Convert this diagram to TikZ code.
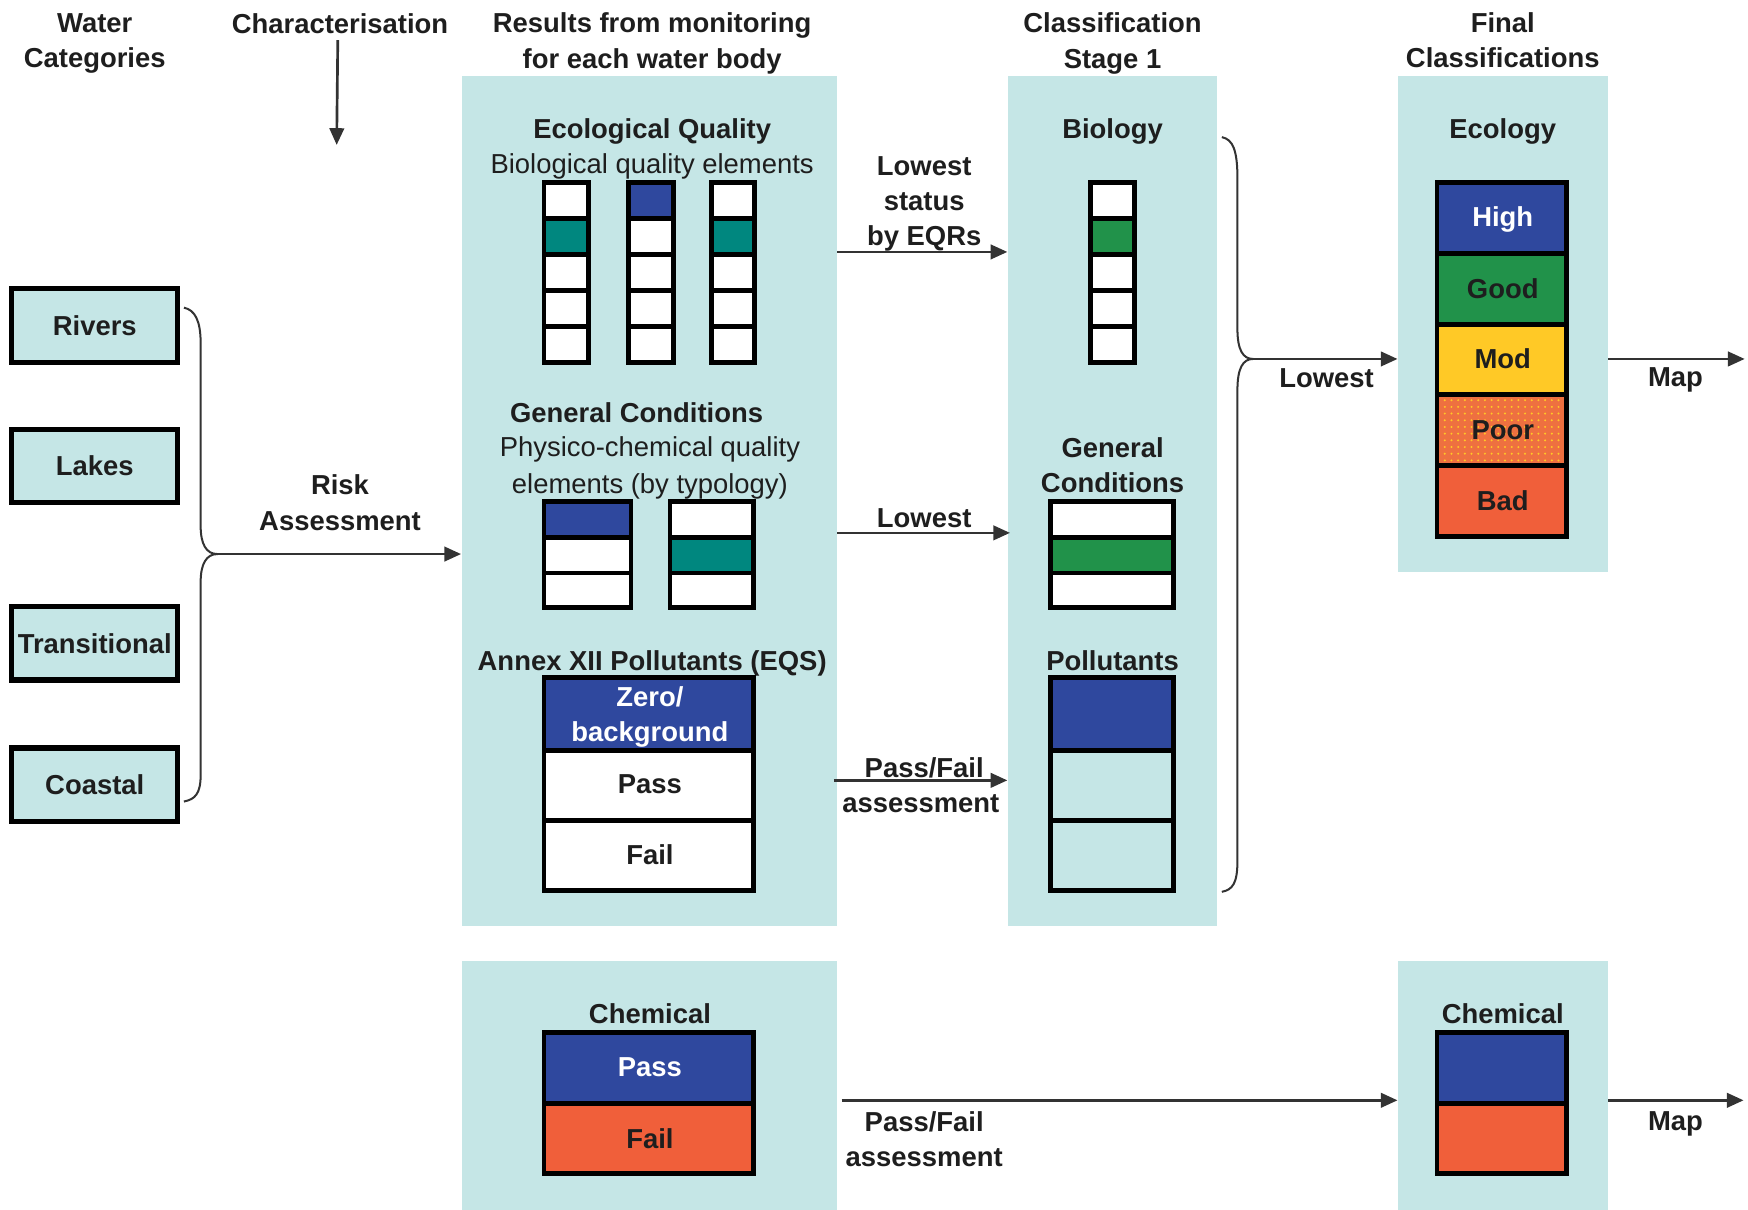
\documentclass[tikz,border=0pt]{standalone}
\usepackage{fontspec}
\setmainfont{Liberation Sans}
\usetikzlibrary{arrows.meta,patterns}
\definecolor{panelc}{HTML}{C5E6E6}
\definecolor{cblue}{HTML}{2F489E}
\definecolor{cteal}{HTML}{00877F}
\definecolor{cgreen}{HTML}{21924A}
\definecolor{cyellow}{HTML}{FFC926}
\definecolor{cred}{HTML}{F05F3A}
\definecolor{cpoor}{HTML}{EE7040}
\definecolor{txt}{HTML}{1E1E1E}
\definecolor{arrc}{HTML}{333333}
\begin{document}
\begin{tikzpicture}[x=0.5pt,y=-0.5pt,
 lbl/.style={font=\bfseries\fontsize{12.3}{15.8}\selectfont, text=txt, align=center, inner sep=0pt},
 lblr/.style={font=\fontsize{12.3}{16.5}\selectfont, text=txt, align=center, inner sep=0pt},
 panel/.style={fill=panelc, draw=none, inner sep=0pt},
 catbox/.style={lbl, draw=black, line width=2.4pt, fill=panelc, minimum width=74.5pt, minimum height=33pt},
 cellst/.style={draw=black, line width=2.2pt},
 arr/.style={draw=arrc, line width=1.2pt, -{Triangle[length=7.5pt,width=6.5pt]}},
 bracest/.style={draw=arrc, line width=0.9pt},
]
\useasboundingbox (0,0) rectangle (1568,1085);

% ---------- panels ----------
\node[panel, minimum width=168.5pt, minimum height=381.5pt] (res) at (582.5,449.5) {};
\node[panel, minimum width=94pt, minimum height=381.5pt] (cls) at (998,449.5) {};
\node[panel, minimum width=94pt, minimum height=222.5pt] (fin) at (1348,290.5) {};
\node[panel, minimum width=168.5pt, minimum height=111.5pt] (chl) at (582.5,973.5) {};
\node[panel, minimum width=94pt, minimum height=111.5pt] (chr) at (1348,973.5) {};

% ---------- headings ----------
\node[lbl] (hwater) at (85,39) {Water\\Categories};
\node[lbl] (hchar) at (305,21) {Characterisation};
\node[lbl] (hres) at (585,39) {Results from monitoring\\for each water body};
\node[lbl] (hcls) at (998,39) {Classification\\Stage 1};
\node[lbl] (hfin) at (1348,36) {Final\\Classifications};
\coordinate (charend) at (302,130);
\draw[arr] (303,36) -- (charend);

% ---------- categories ----------
\node[catbox] (riv) at (85,292) {Rivers};
\node[catbox] (lak) at (85,418) {Lakes};
\node[catbox] (tra) at (85,577) {Transitional};
\node[catbox] (coa) at (85,704) {Coastal};

\coordinate (btip) at (195,497);
\draw[bracest] (165,276) .. controls (175,278) and (180,288) .. (180,308) -- (180,472)
  .. controls (180,488) and (185,497) .. (btip)
  .. controls (185,497) and (180,506) .. (180,522) -- (180,695)
  .. controls (180,712) and (175,717) .. (165,719);
\draw[arr] (btip) -- (res.west |- btip);
\node[lbl] (risk) at (305,451) {Risk\\Assessment};

% ---------- results panel ----------
\node[lbl] (ecoq) at (585,118) {Ecological Quality};
\node[lblr] (bqe) at (585,149) {Biological quality elements};
\foreach \xa/\xb/\fa/\fb in {488/528/white/cteal, 564/604/cblue/white, 638/677/white/cteal}{
  \draw[cellst, fill=white] (\xa,228.4) rectangle (\xb,325);
  \draw[cellst] (\xa,260.6) -- (\xb,260.6) (\xa,292.8) -- (\xb,292.8);
  \draw[cellst, fill=\fb] (\xa,196.2) rectangle (\xb,228.4);
  \draw[cellst, fill=\fa] (\xa,164) rectangle (\xb,196.2);
}

\node[lbl] (gcon) at (571,370) {General Conditions};
\node[lblr] (pcq) at (583,420) {Physico-chemical quality\\elements (by typology)};
\foreach \xa/\xb/\fa/\fb in {488/566/cblue/white, 601/676/white/cteal}{
  \draw[cellst, fill=white] (\xa,514) rectangle (\xb,545);
  \draw[cellst, fill=\fb] (\xa,482) rectangle (\xb,514);
  \draw[cellst, fill=\fa] (\xa,450) rectangle (\xb,482);
}

\node[lbl] (annex) at (585,595) {Annex XII Pollutants (EQS)};
\draw[cellst, fill=white] (488,673) rectangle (676,799);
\draw[cellst] (488,736) -- (676,736);
\draw[cellst, fill=cblue] (488,608) rectangle (676,673);
\node[lbl, text=white] (zero) at (583,643) {Zero/\\background};
\node[lbl] (ppass) at (583,703) {Pass};
\node[lbl] (pfail) at (583,767) {Fail};

% ---------- classification stage 1 ----------
\node[lbl] (bio) at (998,118) {Biology};
\draw[cellst, fill=white] (978,228.4) rectangle (1018,325);
\draw[cellst] (978,260.6) -- (1018,260.6) (978,292.8) -- (1018,292.8);
\draw[cellst, fill=cgreen] (978,196.2) rectangle (1018,228.4);
\draw[cellst, fill=white] (978,164) rectangle (1018,196.2);

\node[lbl] (gc2) at (998,417) {General\\Conditions};
\draw[cellst, fill=white] (942,514) rectangle (1053,545);
\draw[cellst, fill=cgreen] (942,482) rectangle (1053,514);
\draw[cellst, fill=white] (942,450) rectangle (1053,482);

\node[lbl] (poll) at (998,593) {Pollutants};
\draw[cellst, fill=panelc] (942,673) rectangle (1053,799);
\draw[cellst] (942,736) -- (1053,736);
\draw[cellst, fill=cblue] (942,608) rectangle (1053,673);

% ---------- arrows results -> stage 1 ----------
\coordinate (a1) at (751,226);
\draw[arr] (a1) -- (cls.west |- a1);
\node[lbl] (lsbe) at (829,183) {Lowest\\status\\by EQRs};
\coordinate (a2) at (751,478);
\draw[arr] (a2) -- (906,478);
\node[lbl] (low1) at (829,465) {Lowest};
\coordinate (a3) at (748,700);
\draw[arr] (a3) -- (cls.west |- a3);
\node[lbl] (pf1) at (829,689) {Pass/Fail};
\node[lbl] (as1) at (826,721) {assessment};

% ---------- big brace ----------
\coordinate (btip2) at (1124,322);
\draw[bracest] (1096,123) .. controls (1106,125) and (1110,135) .. (1110,160) -- (1110,295)
  .. controls (1110,314) and (1115,322) .. (btip2)
  .. controls (1115,322) and (1110,330) .. (1110,350) -- (1110,772)
  .. controls (1110,792) and (1106,798) .. (1096,800);
\draw[arr] (btip2) -- (fin.west |- btip2);
\node[lbl] (low2) at (1190,339) {Lowest};

% ---------- final ecology ----------
\node[lbl] (ecol) at (1348,118) {Ecology};
\draw[cellst, fill=cblue] (1289,164) rectangle (1405,227.4);
\draw[cellst, fill=cgreen] (1289,227.4) rectangle (1405,290.8);
\draw[cellst, fill=cyellow] (1289,290.8) rectangle (1405,354.2);
\fill[cpoor] (1289,354.2) rectangle (1405,417.6);
\fill[pattern=dots, pattern color=cyellow] (1289,354.2) rectangle (1405,417.6);
\draw[cellst] (1289,354.2) rectangle (1405,417.6);
\draw[cellst, fill=cred] (1289,417.6) rectangle (1405,481);
\node[lbl, text=white] (high) at (1348,197) {High};
\node[lbl] (good) at (1348,259) {Good};
\node[lbl] (mod) at (1348,322) {Mod};
\node[lbl] (poor) at (1348,386) {Poor};
\node[lbl] (bad) at (1348,449) {Bad};

\coordinate (m1) at (1565,322);
\draw[arr] (fin.east |- m1) -- (m1);
\node[lbl] (map1) at (1503,341) {Map};

% ---------- chemical ----------
\node[lbl] (chem1) at (583,909) {Chemical};
\draw[cellst, fill=cblue] (488,926) rectangle (676,990);
\draw[cellst, fill=cred] (488,990) rectangle (676,1053);
\node[lbl, text=white] (cpass) at (583,957) {Pass};
\node[lbl] (cfail) at (583,1021) {Fail};

\node[lbl] (chem2) at (1348,909) {Chemical};
\draw[cellst, fill=cblue] (1289,926) rectangle (1405,990);
\draw[cellst, fill=cred] (1289,990) rectangle (1405,1053);

\coordinate (c1) at (755,987);
\draw[arr] (c1) -- (chr.west |- c1);
\node[lbl] (pf2) at (829,1022) {Pass/Fail\\assessment};
\coordinate (m2) at (1564,987);
\draw[arr] (chr.east |- m2) -- (m2);
\node[lbl] (map2) at (1503,1008) {Map};
\end{tikzpicture}
\end{document}
